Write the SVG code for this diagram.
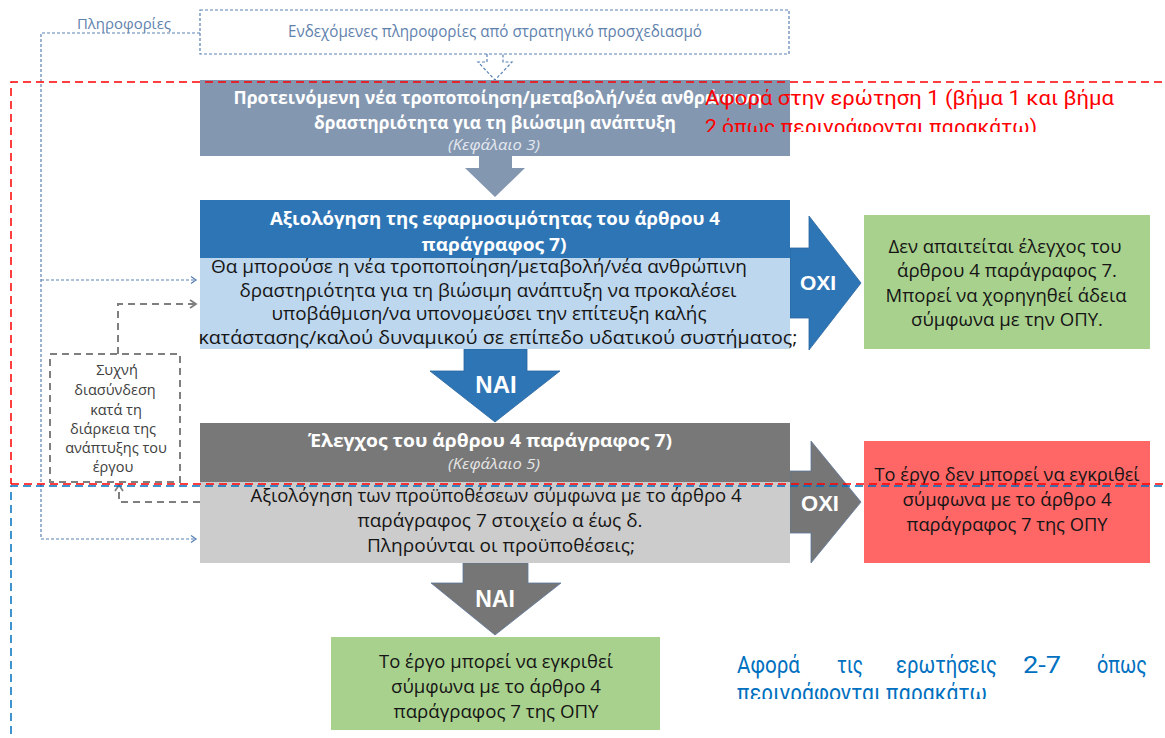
<svg xmlns="http://www.w3.org/2000/svg" width="1165" height="738" viewBox="0 0 1165 738">
<defs>
<style>
.t{font-family:"Open Sans","Liberation Sans",sans-serif;font-size:18px;text-anchor:middle}
.w{fill:#ffffff;font-weight:bold}
.k{fill:#151515}
.it{font-style:italic;font-size:14px;fill:#e4e9f0}
.oxi{font-family:"Liberation Sans",Arial,sans-serif;font-weight:bold;fill:#ffffff;text-anchor:middle}
.note{font-family:"Open Sans","Liberation Sans",sans-serif;fill:#5f82ad;text-anchor:middle}
.small{font-family:"Open Sans","Liberation Sans",sans-serif;font-size:14.5px;fill:#404040;text-anchor:middle}
.red{font-family:Roboto,"Liberation Sans",sans-serif;font-size:20px;fill:#ff0000}
.blue{font-family:Roboto,"Liberation Sans",sans-serif;font-size:24px;fill:#0070c0}
.bd{fill:none;stroke:#5a82b4;stroke-width:1.2;stroke-dasharray:3 2}
.gd{fill:none;stroke:#7f7f7f;stroke-width:2;stroke-dasharray:7 5}
</style>
<marker id="cb" markerWidth="10" markerHeight="10" refX="8" refY="5" orient="auto" markerUnits="userSpaceOnUse"><path d="M3,1.5 L8,5 L3,8.5" fill="none" stroke="#5a82b4" stroke-width="1.3"/></marker>
<marker id="cg" markerWidth="12" markerHeight="12" refX="9" refY="6" orient="auto" markerUnits="userSpaceOnUse"><path d="M3,2 L9,6 L3,10" fill="none" stroke="#7f7f7f" stroke-width="1.8"/></marker>
<clipPath id="clipRed"><rect x="690" y="80" width="475" height="52"/></clipPath>
<clipPath id="clipBlue"><rect x="720" y="640" width="445" height="59"/></clipPath>
</defs>
<rect width="1165" height="738" fill="#ffffff"/>

<g id="connectors">
<path class="bd" d="M200,33 H41 V539 H196" marker-end="url(#cb)"/>
<path class="bd" d="M41,280 H196" marker-end="url(#cb)"/>
<path class="gd" d="M118,354 V304 H196" marker-end="url(#cg)"/>
<path class="gd" d="M200,502 H119 V485" marker-end="url(#cg)"/>
<path d="M487,54 V62 H478 L495,80 L512,62 H503 V54" fill="#ffffff" stroke="#5a82b4" stroke-width="1.2" stroke-dasharray="3 2"/>
<path d="M479,156 H512 V168 H525 L495,197 L465,168 H479 Z" fill="#8497b0"/>
<path d="M790,248 H809 V216 L861,283 L809,350 V318 H790 Z" fill="#2e75b6" stroke="#2a66a0" stroke-width="0.8"/>
<path d="M464,349 H527 V371 H560 L495,422 L430,371 H464 Z" fill="#2e75b6" stroke="#2a66a0" stroke-width="0.8"/>
<path d="M790,471 H811 V441 L861,502 L811,563 V533 H790 Z" fill="#767676" stroke="#5e7a9e" stroke-width="0.8"/>
<path d="M463,563 H528 V583 H561 L495,635 L431,583 H463 Z" fill="#767676" stroke="#5e7a9e" stroke-width="0.8"/>
<text class="oxi" x="818" y="290" font-size="21">OXI</text>
<text class="oxi" x="820" y="511" font-size="22">OXI</text>
<text class="oxi" x="496" y="393" font-size="24">NAI</text>
<text class="oxi" x="495" y="607" font-size="23">NAI</text>
</g>

<g id="node-info-label">
<text class="note" x="124" y="29" font-size="15" textLength="94" lengthAdjust="spacingAndGlyphs">Πληροφορίες</text>
</g>

<g id="node-strategic">
<rect x="200" y="10" width="589" height="44" fill="#ffffff" stroke="#5a82b4" stroke-width="1.2" stroke-dasharray="3 2"/>
<text class="note" x="495" y="37" font-size="16" textLength="414" lengthAdjust="spacingAndGlyphs">Ενδεχόμενες πληροφορίες από στρατηγικό προσχεδιασμό</text>
</g>

<g id="node-proposed">
<rect x="200" y="80" width="590" height="76" fill="#8497b0"/>
<text class="t w" x="498" y="104" textLength="529" lengthAdjust="spacingAndGlyphs">Προτεινόμενη νέα τροποποίηση/μεταβολή/νέα ανθρώπινη</text>
<text class="t w" x="495" y="129" textLength="362" lengthAdjust="spacingAndGlyphs">δραστηριότητα για τη βιώσιμη ανάπτυξη</text>
<text class="t it" x="494" y="150" textLength="92" lengthAdjust="spacingAndGlyphs">(Κεφάλαιο 3)</text>
</g>

<g id="node-applicability">
<rect x="200" y="200" width="590" height="58" fill="#2e75b6"/>
<rect x="200" y="258" width="590" height="91" fill="#bdd7ee"/>
<text class="t w" x="495" y="225" textLength="450" lengthAdjust="spacingAndGlyphs">Αξιολόγηση της εφαρμοσιμότητας του άρθρου 4</text>
<text class="t w" x="494" y="251" textLength="145" lengthAdjust="spacingAndGlyphs">παράγραφος 7)</text>
<text class="t k" x="479" y="273" textLength="536" lengthAdjust="spacingAndGlyphs">Θα μπορούσε η νέα τροποποίηση/μεταβολή/νέα ανθρώπινη</text>
<text class="t k" x="488" y="297" textLength="497" lengthAdjust="spacingAndGlyphs">δραστηριότητα για τη βιώσιμη ανάπτυξη να προκαλέσει</text>
<text class="t k" x="489" y="320" textLength="435" lengthAdjust="spacingAndGlyphs">υποβάθμιση/να υπονομεύσει την επίτευξη καλής</text>
<text class="t k" x="498" y="344" textLength="599" lengthAdjust="spacingAndGlyphs">κατάστασης/καλού δυναμικού σε επίπεδο υδατικού συστήματος;</text>
</g>

<g id="node-no-check">
<rect x="864" y="215" width="286" height="134" fill="#a9d18e"/>
<text class="t k" x="1005" y="253" textLength="233" lengthAdjust="spacingAndGlyphs">Δεν απαιτείται έλεγχος του</text>
<text class="t k" x="1007" y="277" textLength="220" lengthAdjust="spacingAndGlyphs">άρθρου 4 παράγραφος 7.</text>
<text class="t k" x="1006" y="302" textLength="241" lengthAdjust="spacingAndGlyphs">Μπορεί να χορηγηθεί άδεια</text>
<text class="t k" x="1007" y="326" textLength="192" lengthAdjust="spacingAndGlyphs">σύμφωνα με την ΟΠΥ.</text>
</g>

<g id="node-frequent">
<rect x="50" y="354" width="130" height="128" fill="#ffffff" stroke="#7f7f7f" stroke-width="2" stroke-dasharray="7 5"/>
<text class="small" x="117" y="375">Συχνή</text>
<text class="small" x="115" y="395">διασύνδεση</text>
<text class="small" x="116" y="415">κατά τη</text>
<text class="small" x="113" y="434">διάρκεια της</text>
<text class="small" x="116" y="453">ανάπτυξης του</text>
<text class="small" x="113" y="472">έργου</text>
</g>

<g id="node-check">
<rect x="200" y="423" width="590" height="59" fill="#787878"/>
<rect x="200" y="482" width="590" height="81" fill="#cccccc"/>
<text class="t w" x="490" y="447" textLength="364" lengthAdjust="spacingAndGlyphs">Έλεγχος του άρθρου 4 παράγραφος 7)</text>
<text class="t it" x="494" y="469" textLength="92" lengthAdjust="spacingAndGlyphs" style="fill:#e6e6e6">(Κεφάλαιο 5)</text>
<text class="t k" x="496" y="502" textLength="491" lengthAdjust="spacingAndGlyphs">Αξιολόγηση των προϋποθέσεων σύμφωνα με το άρθρο 4</text>
<text class="t k" x="500" y="527" textLength="285" lengthAdjust="spacingAndGlyphs">παράγραφος 7 στοιχείο α έως δ.</text>
<text class="t k" x="501" y="552" textLength="268" lengthAdjust="spacingAndGlyphs">Πληρούνται οι προϋποθέσεις;</text>
</g>

<g id="node-rejected">
<rect x="864" y="441" width="286" height="122" fill="#ff6666"/>
<text class="t k" x="1007" y="481" textLength="265" lengthAdjust="spacingAndGlyphs">Το έργο δεν μπορεί να εγκριθεί</text>
<text class="t k" x="1007" y="506" textLength="209" lengthAdjust="spacingAndGlyphs">σύμφωνα με το άρθρο 4</text>
<text class="t k" x="1007" y="531" textLength="201" lengthAdjust="spacingAndGlyphs">παράγραφος 7 της ΟΠΥ</text>
</g>

<g id="node-approved">
<rect x="331" y="637" width="329" height="93" fill="#a9d18e"/>
<text class="t k" x="496" y="668" textLength="234" lengthAdjust="spacingAndGlyphs">Το έργο μπορεί να εγκριθεί</text>
<text class="t k" x="496" y="693" textLength="210" lengthAdjust="spacingAndGlyphs">σύμφωνα με το άρθρο 4</text>
<text class="t k" x="496" y="718" textLength="205" lengthAdjust="spacingAndGlyphs">παράγραφος 7 της ΟΠΥ</text>
</g>

<g id="region-question1">
<path d="M1175,82 H11 V484" fill="none" stroke="#ff0000" stroke-width="1.5" stroke-dasharray="8 5"/>
<text class="red" x="705" y="105" textLength="409" lengthAdjust="spacingAndGlyphs">Αφορά στην ερώτηση 1 (βήμα 1 και βήμα</text>
<text class="red" x="705" y="134" textLength="332" lengthAdjust="spacingAndGlyphs" clip-path="url(#clipRed)">2 όπως περιγράφονται παρακάτω)</text>
<path d="M11,484 H1175" fill="none" stroke="#ff0000" stroke-width="1.5" stroke-dasharray="8 5"/>
</g>

<g id="region-questions2-7">
<path d="M1175,486 H11 V745" fill="none" stroke="#0070c0" stroke-width="1.5" stroke-dasharray="8 5"/>
<text class="blue" x="737" y="673" textLength="63" lengthAdjust="spacingAndGlyphs">Αφορά</text>
<text class="blue" x="837" y="673" textLength="26" lengthAdjust="spacingAndGlyphs">τις</text>
<text class="blue" x="896" y="673" textLength="101" lengthAdjust="spacingAndGlyphs">ερωτήσεις</text>
<text class="blue" x="1023" y="673" textLength="38" lengthAdjust="spacingAndGlyphs">2-7</text>
<text class="blue" x="1097" y="673" textLength="50" lengthAdjust="spacingAndGlyphs">όπως</text>
<text class="blue" x="737" y="701" textLength="250" lengthAdjust="spacingAndGlyphs" clip-path="url(#clipBlue)">περιγράφονται παρακάτω</text>
</g>
</svg>
